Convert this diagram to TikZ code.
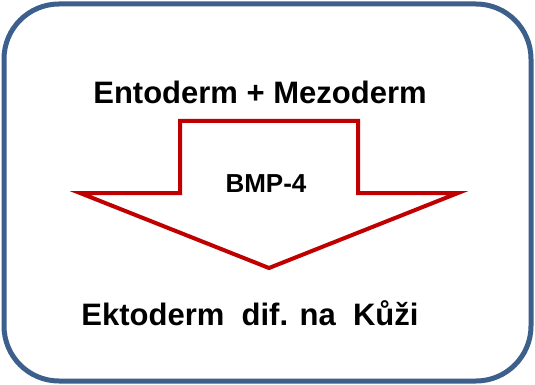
\documentclass[tikz,border=0pt]{standalone}
\usepackage{fontspec}
\setmainfont{Liberation Sans}
\definecolor{frameblue}{RGB}{60,95,140}
\definecolor{arrowred}{RGB}{192,0,0}

\begin{document}
\begin{tikzpicture}[
                x=1pt,
                y=-1pt,
                label text/.style={anchor=base, inner sep=0pt, font=\bfseries\fontsize{31}{31}\selectfont},
                small text/.style={anchor=base, inner sep=0pt, font=\bfseries\fontsize{26}{26}\selectfont}
            ]

            \useasboundingbox[fill=white] (0, 0) rectangle (535, 385);

            \draw[line width=5pt, frameblue, rounded corners=55pt] (4, 4) rectangle (531, 381);

            \draw[line width=4pt, arrowred, line join=miter] (180, 121) -- (358, 121) -- (358, 193) -- (458, 193)
                -- (269, 268) -- (80, 193) -- (180, 193) -- cycle;

            \node[label text] (top) at (260, 103) {Entoderm + Mezoderm};
            \node[small text] (bmp) at (266, 192) {BMP-4};
            \node[label text] (bottom) at (250, 325) {Ektoderm\ \ dif. na\ \ Kůži};

            \end{tikzpicture}
\end{document}
